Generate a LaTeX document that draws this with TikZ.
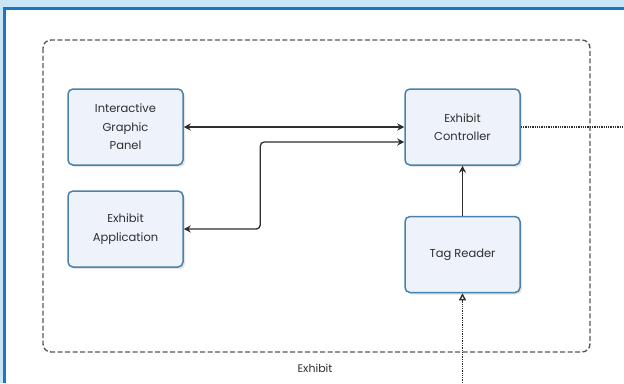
\documentclass[tikz,border=0pt]{standalone}
\usepackage{fontspec}
\newfontfamily\boxfont{Poppins}
\usepackage{xcolor}
\usepackage{tikz}
\usetikzlibrary{arrows.meta, shadows, positioning}
\definecolor{paleblue}{HTML}{C8E6F6}
\definecolor{frameblue}{HTML}{1B77C2}
\definecolor{boxedge}{HTML}{4A82AB}
\definecolor{boxfill}{HTML}{EEF3FB}
\definecolor{inkgray}{HTML}{2E2E2E}

\begin{document}
\begin{tikzpicture}[x=1pt, y=-1pt,
    unit/.style={draw=boxedge, line width=1.5pt, fill=boxfill, rounded corners=5pt,
        minimum width=115pt, minimum height=76pt, align=center, text=inkgray,
        font=\boxfont\fontsize{11.5}{18.5}\selectfont,
        drop shadow={opacity=0.2, shadow xshift=2pt, shadow yshift=-2pt}},
    link/.style={draw=inkgray, line width=1.3pt},
    tip/.style={-{Stealth[length=7pt, width=7pt]}},
    twotips/.style={{Stealth[length=7pt, width=7pt]}-{Stealth[length=7pt, width=7pt]}}]
    \useasboundingbox (0,0) rectangle (624,383);
    \fill[paleblue] (0,0) rectangle (624,383);
    \fill[white] (6,10) rectangle (624,383);
    \draw[frameblue, line width=3.5pt] (4.5,383) -- (4.5,8.5) -- (624,8.5);
    \draw[black!65, line width=1.4pt, dash pattern=on 5pt off 2.5pt, rounded corners=8pt]
        (43,40) rectangle (590,352);
    \node[font=\boxfont\fontsize{11}{13}\selectfont, text=inkgray] (label) at (315,368) {Exhibit};

    \node[unit] (igp) at (125.5,127) {Interactive\\Graphic\\Panel};
    \node[unit] (app) at (125.5,229) {Exhibit\\Application};
    \node[unit] (ctrl) at (462.5,127) {Exhibit\\Controller};
    \node[unit] (tag) at (462.5,254.5) {Tag Reader};

    \coordinate (out) at (624,127);
    \coordinate (in) at (462.5,383);

    \draw[link, twotips] (igp) -- (ctrl);
    \draw[link, twotips, rounded corners=4pt]
        ([yshift=-15pt]ctrl.west) -- ++(-144,0) |- (app.east);
    \draw[link, tip] (tag) -- (ctrl);
    \draw[inkgray, line width=1.3pt, densely dotted] (ctrl.east) -- (out);
    \draw[inkgray, line width=1.3pt, densely dotted, -{Triangle[open, length=7pt, width=7pt]}] (in) -- (tag.south);
\end{tikzpicture}
\end{document}
